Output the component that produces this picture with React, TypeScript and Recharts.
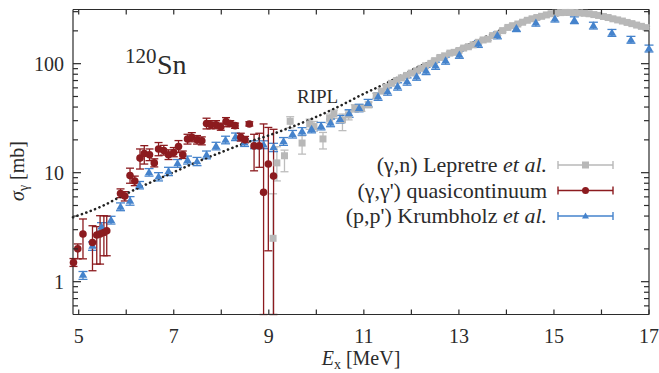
import { ComposedChart, Scatter, Line, XAxis, YAxis, ErrorBar } from 'recharts'

const FONT = '"Liberation Serif", "Times New Roman", serif'
const RED = '#8c1b1f'
const BLUE = '#4583cc'
const GREY = '#b8b8b8'
const INK = '#2b2b2b'

// axis ticks
const xTicks = [5, 6, 7, 8, 9, 10, 11, 12, 13, 14, 15, 16, 17]
const xLabels = [5, 7, 9, 11, 13, 15, 17]
const yTicks = [0.6, 0.7, 0.8, 0.9, 1, 2, 3, 4, 5, 6, 7, 8, 9, 10, 20, 30, 40, 50, 60, 70, 80, 90, 100, 200, 300]
const yLabels = [1, 10, 100]

// (γ,n) Lepretre et al. : [Ex, sigma, lower, upper]
const lepretre = [
  [9.09, 2.5, 0.5, 6.4], [9.17, 12.3, 8.4, 17.3], [9.33, 14.3, 10.2, 16.1], [9.45, 29.6, 25.8, 32.6],
  [9.7, 18.7, 14.8, 21.8], [9.86, 28, 25, 31], [9.95, 26.5, 24, 29.5], [10.14, 20.4, 16.5, 23.4],
  [10.28, 31.5, 28.5, 34.5], [10.37, 34.6, 31.5, 37.5], [10.55, 30.5, 24.3, 34.5], [10.68, 33.8, 30.5, 37],
  [10.81, 39, 36, 42], [10.95, 39, 36.5, 41.5], [11.1, 42, 39.5, 44.5], [11.26, 50.8, 48, 53.5],
  [11.37, 56, 53.5, 58.5], [11.47, 61, 59, 63], [11.58, 66, 64, 68], [11.69, 70, 68, 72],
  [11.79, 74, 72, 76], [11.9, 78, 76, 80], [12.0, 82, 80, 84], [12.11, 86, 83.5, 88.5],
  [12.2, 90.5, 88, 93], [12.3, 95.6, 93, 98.5], [12.41, 100.6, 97.5, 103.5], [12.49, 106.6, 103.5, 110],
  [12.6, 114, 110.5, 117.5], [12.7, 118, 114.5, 121.5], [12.81, 125, 121, 129], [12.9, 127, 123, 131],
  [13.0, 132, 128, 136], [13.1, 139, 135, 143], [13.2, 143, 139, 147], [13.3, 149, 145, 153],
  [13.41, 157, 152, 162], [13.51, 165, 160, 170], [13.61, 168, 163, 173], [13.71, 181, 176, 186],
  [13.81, 187, 181, 193], [13.92, 201, 195, 207], [14.03, 215, 209, 221], [14.13, 223, 216, 230],
  [14.24, 231, 224, 238], [14.34, 240, 233, 247], [14.44, 250, 243, 257], [14.54, 258, 250, 266],
  [14.64, 265, 257, 273], [14.74, 272, 264, 280], [14.84, 280, 272, 288], [14.94, 287, 279, 295],
  [15.04, 291, 283, 299], [15.14, 294, 286, 302], [15.24, 295, 287, 303], [15.34, 295, 287, 303],
  [15.44, 294, 286, 302], [15.54, 292, 284, 300], [15.64, 290, 282, 298], [15.74, 287, 279, 295],
  [15.84, 282, 274, 290], [15.94, 277, 269, 285], [16.04, 271, 263, 279], [16.14, 265, 257, 273],
  [16.24, 258, 250, 266], [16.34, 252, 245, 259], [16.44, 246, 239, 253], [16.54, 239, 232, 246],
  [16.64, 233, 226, 240], [16.74, 226, 219, 233], [16.84, 220, 213, 227], [16.94, 214, 208, 220],
]

// (γ,γ') quasicontinuum : [Ex, sigma, lower, upper]
const quasi = [
  [4.89, 1.5, 1.38, 1.63], [4.98, 2.0, 1.62, 2.22], [5.09, 2.74, 1.62, 3.76], [5.29, 2.29, 1.26, 3.26],
  [5.38, 2.68, 1.45, 3.2], [5.45, 2.74, 1.45, 4.03], [5.53, 2.83, 1.73, 4.03], [5.59, 2.93, 1.73, 4.0],
  [5.88, 6.45, 5.9, 7.1], [5.97, 6.1, 5.5, 6.7], [6.08, 9.4, 8.0, 11.0], [6.18, 8.4, 7.6, 9.3],
  [6.29, 13.6, 10.8, 16.5], [6.38, 15.0, 12.0, 17.7], [6.49, 14.6, 12.9, 16.5], [6.59, 12.3, 11.3, 13.4],
  [6.68, 16.5, 14.3, 18.9], [6.79, 16.0, 14.5, 17.8], [6.89, 14.6, 13.2, 16.2], [7.0, 15.3, 14, 17],
  [7.1, 17.4, 15.3, 19.7], [7.19, 14.6, 13.5, 15.8], [7.29, 20.4, 18.3, 22.5], [7.38, 21.1, 19.2, 23.3],
  [7.49, 20.0, 18.3, 21.9], [7.59, 19.6, 18, 21.3], [7.69, 28.3, 25.2, 31.6], [7.78, 27.5, 25.3, 30],
  [7.89, 27.5, 25.3, 30], [7.99, 26.4, 24.5, 28.5], [8.1, 29.5, 26.4, 32], [8.19, 28.3, 26.5, 30],
  [8.29, 27.0, 25.5, 28.5], [8.41, 21.1, 19.5, 23], [8.5, 20.0, 18.8, 21.5], [8.59, 28.0, 26.8, 29.3],
  [8.69, 17.6, 10.4, 22.5], [8.8, 17.6, 11.2, 23], [8.89, 6.6, 0.5, 28], [8.99, 12.0, 1.92, 26],
  [9.1, 9.3, 0.5, 25],
]

// (p,p') Krumbholz et al. : [Ex, sigma, lower, upper]
const krumbholz = [
  [5.09, 1.16, 1.05, 1.24], [5.29, 2.14, 1.94, 2.32], [5.48, 3.2, 2.92, 3.48], [5.68, 3.68, 3.38, 3.98],
  [5.88, 4.88, 4.48, 5.28], [6.08, 5.53, 5.03, 6.03], [6.28, 7.7, 7.1, 8.3], [6.48, 10.1, 9.3, 10.9],
  [6.68, 9.2, 8.4, 10.0], [6.89, 10.3, 9.4, 11.2], [7.08, 12.2, 11.2, 13.2], [7.29, 13.1, 12.0, 14.2],
  [7.49, 12.7, 11.6, 13.8], [7.69, 14.6, 13.4, 15.8], [7.89, 17.6, 16.2, 19.0], [8.09, 20.0, 18.4, 21.6],
  [8.3, 21.4, 19.7, 23.1], [8.49, 18.9, 17.4, 20.4], [8.7, 18.1, 16.6, 19.6], [8.89, 18.1, 16.6, 19.6],
  [9.1, 17.1, 15.6, 18.6], [9.31, 19.4, 17.8, 21.0], [9.5, 22.6, 20.8, 24.4], [9.7, 24.0, 22.1, 25.9],
  [9.9, 25.2, 23.2, 27.2], [10.1, 26.8, 24.7, 28.9], [10.3, 28.7, 26.4, 31.0], [10.5, 31, 28.5, 33.5],
  [10.69, 35, 32.2, 37.8], [10.9, 39.3, 36.2, 42.4], [11.09, 43.6, 40.2, 47.0], [11.3, 50, 46.1, 53.9],
  [11.5, 55.7, 51.4, 60.0], [11.71, 62, 57.2, 66.8], [11.91, 68.8, 63.5, 74.1], [12.11, 76.4, 70.5, 82.3],
  [12.31, 86, 79.4, 92.6], [12.51, 96, 88.7, 103.3], [12.72, 107, 98.9, 115.1], [13.01, 121, 112, 130],
  [13.41, 152, 141, 163], [13.81, 182, 169, 195], [14.21, 212, 197, 227], [14.62, 238, 221, 255],
  [15.02, 259, 241, 277], [15.43, 251, 233, 269], [15.83, 224, 208, 240], [16.22, 192, 178, 206],
  [16.62, 166, 154, 178], [17.0, 138, 128, 148],
]

// RIPL systematics : [Ex, sigma]
const ripl = [
  [4.88, 3.9], [5.5, 4.95], [6.0, 6.4], [6.5, 8.1], [7.0, 10.1], [7.5, 12.6], [8.0, 15.4],
  [8.5, 18.7], [9.0, 22], [9.5, 26.5], [10.0, 32.5], [10.5, 41], [11.0, 53], [11.5, 67],
  [12.0, 87], [12.5, 109], [13.0, 137], [13.5, 171], [14.0, 213], [14.5, 254], [15.0, 276],
  [15.25, 282], [15.5, 282], [16.0, 267], [16.5, 238], [17.0, 210],
]

const withErr = (rows: number[][]) => rows.map(([x, y, lo, hi]) => ({ x, y, e: [y - lo, hi - y] }))

const Square = (p: any) => <rect x={p.cx - 3.5} y={p.cy - 3.5} width={7} height={7} fill={GREY} />
const Dot = (p: any) => <circle cx={p.cx} cy={p.cy} r={3.8} fill={RED} />
const Tri = (p: any) => (
  <polygon points={`${p.cx},${p.cy - 4.2} ${p.cx + 4.2},${p.cy + 3} ${p.cx - 4.2},${p.cy + 3}`} fill={BLUE} />
)

const tickText = { fontSize: 20, fontFamily: FONT, fill: INK }

function BottomTick({ x, y, payload }: any) {
  const v = payload.value
  return (
    <g>
      <line x1={x} x2={x} y1={y} y2={y - 5} stroke={INK} strokeWidth={1.2} />
      {xLabels.includes(v) && (
        <text x={x} y={y + 28} textAnchor="middle" {...tickText}>{v}</text>
      )}
    </g>
  )
}

function TopTick({ x, y }: any) {
  return <line x1={x} x2={x} y1={y} y2={y + 5} stroke={INK} strokeWidth={1.2} />
}

function LeftTick({ x, y, payload }: any) {
  const v = payload.value
  const major = yLabels.includes(v)
  return (
    <g>
      <line x1={x} x2={x + (major ? 8 : 5)} y1={y} y2={y} stroke={INK} strokeWidth={1.2} />
      {major && (
        <text x={x - 9} y={y + 7} textAnchor="end" {...tickText}>{v}</text>
      )}
    </g>
  )
}

function RightTick({ x, y, payload }: any) {
  const major = yLabels.includes(payload.value)
  return <line x1={x} x2={x - (major ? 8 : 5)} y1={y} y2={y} stroke={INK} strokeWidth={1.2} />
}

const legendRows = [
  { label: '(γ,n) Lepretre ', italic: 'et al.', color: GREY, y: 165, mark: 'square' },
  { label: "(γ,γ') quasicontinuum", italic: '', color: RED, y: 190.5, mark: 'dot' },
  { label: "(p,p') Krumbholz ", italic: 'et al.', color: BLUE, y: 216, mark: 'tri' },
]

function Overlay() {
  return (
    <svg width={659} height={373} style={{ position: 'absolute', left: 0, top: 0, pointerEvents: 'none' }}>
      <g fontFamily={FONT} fill={INK}>
        <text x={125} y={63} fontSize={21}>120</text>
        <text x={157} y={74} fontSize={28}>Sn</text>
        <text x={297} y={102.5} fontSize={19}>RIPL</text>
        <text x={361} y={365} fontSize={20} textAnchor="middle">
          <tspan fontStyle="italic">E</tspan>
          <tspan fontSize={14} dy={4}>x</tspan>
          <tspan dy={-4}> [MeV]</tspan>
        </text>
        <text transform="translate(24,171) rotate(-90)" fontSize={20} textAnchor="middle">
          <tspan fontStyle="italic">σ</tspan>
          <tspan fontSize={14} dy={4}>γ</tspan>
          <tspan dy={-4}> [mb]</tspan>
        </text>
        {legendRows.map((r) => (
          <g key={r.label}>
            <text x={547} y={r.y + 7} fontSize={22} textAnchor="end">
              {r.label}
              {r.italic && <tspan fontStyle="italic">{r.italic}</tspan>}
            </text>
            <line x1={558} x2={613} y1={r.y} y2={r.y} stroke={r.color} strokeWidth={1.4} />
            <line x1={558} x2={558} y1={r.y - 4} y2={r.y + 4} stroke={r.color} strokeWidth={1.4} />
            <line x1={613} x2={613} y1={r.y - 4} y2={r.y + 4} stroke={r.color} strokeWidth={1.4} />
            {r.mark === 'square' && <rect x={582} y={r.y - 3.5} width={7} height={7} fill={r.color} />}
            {r.mark === 'dot' && <circle cx={585.5} cy={r.y} r={3.5} fill={r.color} />}
            {r.mark === 'tri' && (
              <polygon points={`585.5,${r.y - 3.5} 589,${r.y + 2.5} 582,${r.y + 2.5}`} fill={r.color} />
            )}
          </g>
        ))}
      </g>
    </svg>
  )
}

export default function App() {
  return (
    <div style={{ position: 'absolute', left: 0, top: 0, width: 659, height: 373, background: '#fff' }}>
      <ComposedChart width={659} height={373} margin={{ top: 0, right: 0, bottom: 0, left: 0 }}>
        <XAxis
          dataKey="x"
          type="number"
          domain={[4.88, 17]}
          ticks={xTicks}
          interval={0}
          height={58.5}
          tickSize={0}
          tickMargin={0}
          tickLine={false}
          tick={<BottomTick />}
          axisLine={{ stroke: INK, strokeWidth: 1.2 }}
        />
        <XAxis
          xAxisId="top"
          orientation="top"
          dataKey="x"
          type="number"
          domain={[4.88, 17]}
          allowDataOverflow
          ticks={xTicks}
          interval={0}
          height={9.5}
          tickSize={0}
          tickMargin={0}
          tickLine={false}
          tick={<TopTick />}
          axisLine={{ stroke: INK, strokeWidth: 1.2 }}
        />
        <YAxis
          dataKey="y"
          scale="log"
          type="number"
          domain={[0.5, 314]}
          ticks={yTicks}
          interval={0}
          width={73}
          tickSize={0}
          tickMargin={0}
          tickLine={false}
          tick={<LeftTick />}
          axisLine={{ stroke: INK, strokeWidth: 1.2 }}
        />
        <YAxis
          yAxisId="right"
          orientation="right"
          dataKey="y"
          scale="log"
          type="number"
          domain={[0.5, 314]}
          allowDataOverflow
          ticks={yTicks}
          interval={0}
          width={10}
          tickSize={0}
          tickMargin={0}
          tickLine={false}
          tick={<RightTick />}
          axisLine={{ stroke: INK, strokeWidth: 1.2 }}
        />
        <Scatter data={withErr(lepretre)} shape={Square} isAnimationActive={false}>
          <ErrorBar dataKey="e" direction="y" width={4} stroke="#bdbdbd" strokeWidth={1.3} />
        </Scatter>
        <Scatter data={withErr(krumbholz)} shape={Tri} isAnimationActive={false}>
          <ErrorBar dataKey="e" direction="y" width={4.5} stroke={BLUE} strokeWidth={1.3} />
        </Scatter>
        <Scatter data={withErr(quasi)} shape={Dot} isAnimationActive={false}>
          <ErrorBar dataKey="e" direction="y" width={4} stroke={RED} strokeWidth={1.3} />
        </Scatter>
        <Line
          data={ripl.map(([x, y]) => ({ x, y }))}
          dataKey="y"
          type="monotone"
          stroke="#222"
          strokeWidth={2.6}
          strokeDasharray="0.1 4.6"
          strokeLinecap="round"
          dot={false}
          activeDot={false}
          isAnimationActive={false}
        />
      </ComposedChart>
      <Overlay />
    </div>
  )
}
